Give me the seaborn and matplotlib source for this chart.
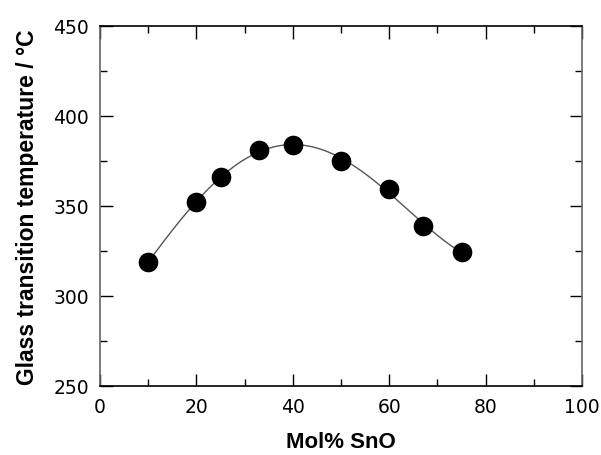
import numpy as np
import pandas as pd
import seaborn as sns
import matplotlib
matplotlib.use("Agg")
import matplotlib.pyplot as plt
from matplotlib.ticker import MultipleLocator

mol_sno = [10, 20, 25, 33, 40, 50, 60, 67, 75]
tg = [319, 352, 366, 381, 384, 375, 359.5, 339, 324.5]

df = pd.DataFrame({"mol": mol_sno, "tg": tg})

sns.set_theme(style="white")
plt.rcParams['font.family'] = ['Liberation Sans', 'DejaVu Sans']
plt.rcParams['text.color'] = 'black'
plt.rcParams['axes.labelcolor'] = 'black'

fig = plt.figure(figsize=(6.01, 4.56), dpi=100)
ax = fig.add_axes([100/601, 1-387/456, 482/601, 360/456])

coef = np.polyfit(df["mol"], df["tg"], 4)
xs = np.linspace(min(mol_sno), max(mol_sno), 200)
fit = pd.DataFrame({"mol": xs, "tg": np.polyval(coef, xs)})
sns.lineplot(data=fit, x="mol", y="tg", ax=ax, color="#555555", linewidth=1.0)
sns.scatterplot(data=df, x="mol", y="tg", ax=ax, color="black", s=200,
                edgecolor="black", linewidth=0, zorder=3)

ax.set_xlim(0, 100)
ax.set_ylim(250, 450)
ax.xaxis.set_major_locator(MultipleLocator(20))
ax.xaxis.set_minor_locator(MultipleLocator(10))
ax.yaxis.set_major_locator(MultipleLocator(50))
ax.yaxis.set_minor_locator(MultipleLocator(25))
ax.tick_params(which="both", direction="in", top=True, right=True, bottom=True, left=True,
               colors="black", labelcolor="black", labelsize=13.5)
ax.tick_params(which="major", length=9, width=1, pad=8)
ax.tick_params(which="minor", length=5, width=1)
for lab in ax.get_xticklabels() + ax.get_yticklabels():
    lab.set_family("DejaVu Sans")
for s in ax.spines.values():
    s.set_color("black")
    s.set_linewidth(1.2)
ax.spines["right"].set_color("#666666")
ax.spines["left"].set_color("#666666")

ax.set_xlabel("Mol% SnO", fontsize=16, fontweight="bold", labelpad=11, color="black")
ax.set_ylabel("Glass transition temperature / \u00b0C", fontsize=16.5, fontweight="bold",
              labelpad=10, color="black")

fig.savefig("out.png", dpi=100)
